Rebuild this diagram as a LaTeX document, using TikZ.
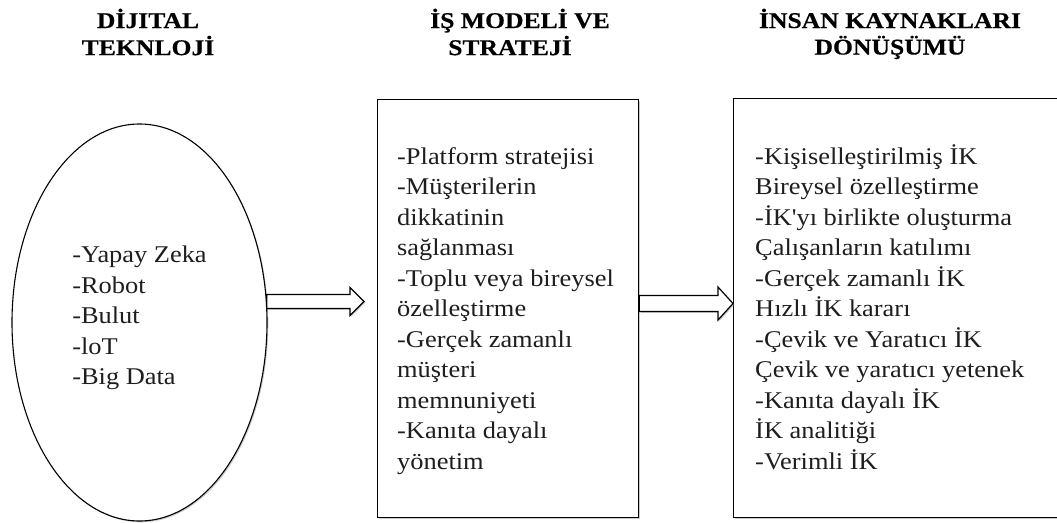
\documentclass[tikz,border=0pt]{standalone}
\usepackage{fontspec}
\setmainfont{Liberation Serif}
\newfontfamily\bodyfont[FakeStretch=1.1]{Liberation Serif}
\newfontfamily\titlefont[FakeStretch=1.14,FakeBold=0.4]{Liberation Serif}
\usetikzlibrary{shapes.geometric,shadows,calc}
\definecolor{txt}{HTML}{1E1E1E}
\newcommand\blockarrow[5]{%
  \draw[barrow] ($(#1)+(0,-#3)$) -- ($(#2)+(-#5,-#3)$) -- ($(#2)+(-#5,-#4)$) -- (#2)
    -- ($(#2)+(-#5,#4)$) -- ($(#2)+(-#5,#3)$) -- ($(#1)+(0,#3)$) -- cycle;}
\tikzset{
  shad/.style={drop shadow={shadow xshift=1.3pt,shadow yshift=-1.3pt,fill=black!40}},
  box/.style={draw, line width=1.2pt, fill=white, shad, anchor=north west, inner sep=0pt},
  ell/.style={ellipse, draw, line width=1.1pt, fill=white, shad, inner sep=0pt,
    minimum width=255pt, minimum height=397pt, text=txt,
    font=\bodyfont\fontsize{24}{30.5}\selectfont},
  body/.style={inner sep=0pt, anchor=base west, text=txt,
    font=\bodyfont\fontsize{24}{30.5}\selectfont},
  ttl/.style={inner sep=0pt, anchor=base, text=black,
    font=\titlefont\bfseries\fontsize{22.5}{26}\selectfont},
  barrow/.style={draw, line width=1.2pt, fill=white, line join=miter, shad},
}
\begin{document}
\begin{tikzpicture}[x=1pt,y=-1pt]
\useasboundingbox (0,0) rectangle (1057,522);

% titles
\node[ttl] (h1) at (148,28) {\begin{tabular}[t]{@{}c@{}}DİJITAL\\TEKNLOJİ\end{tabular}};
\node[ttl,anchor=base west] (h2) at (430,28) {\begin{tabular}[t]{@{}l@{}}İŞ MODELİ VE\\\hspace*{18pt}STRATEJİ\end{tabular}};
\node[ttl] (h3) at (890,28) {\begin{tabular}[t]{@{}c@{}}İNSAN KAYNAKLARI\\DÖNÜŞÜMÜ\end{tabular}};

% shapes
\node[ell] (ell) at (139.5,322.5) {\raisebox{0pt}[\height][\dimexpr\depth+10pt\relax]{\begin{tabular}{@{}l@{}}-Yapay Zeka\\-Robot\\-Bulut\\-loT\\-Big Data\end{tabular}}};
\node[box, minimum width=261pt, minimum height=418pt] (box1) at (377,99) {};
\node[box, minimum width=332pt, minimum height=419pt] (box2) at (733,98) {};

% box texts
\node[body] (b1) at (397,164) {\begin{tabular}[t]{@{}l@{}}-Platform stratejisi\\-Müşterilerin\\dikkatinin\\sağlanması\\-Toplu veya bireysel\\özelleştirme\\-Gerçek zamanlı\\müşteri\\memnuniyeti\\-Kanıta dayalı\\yönetim\end{tabular}};
\node[body] (b2) at (755,164) {\begin{tabular}[t]{@{}l@{}}-Kişiselleştirilmiş İK\\Bireysel özelleştirme\\-İK'yı birlikte oluşturma\\Çalışanların katılımı\\-Gerçek zamanlı İK\\Hızlı İK kararı\\-Çevik ve Yaratıcı İK\\Çevik ve yaratıcı yetenek\\-Kanıta dayalı İK\\İK analitiği\\-Verimli İK\end{tabular}};

% arrows
\coordinate (ya) at (0,301.5);
\coordinate (yb) at (0,303.5);
\coordinate (s1) at ($(ell.east |- ya)+(-0.8,0)$);
\coordinate (e1) at ($(box1.west |- ya)+(-13,0)$);
\coordinate (s2) at (box1.east |- yb);
\coordinate (e2) at (box2.west |- yb);
\blockarrow{s1}{e1}{7}{14}{14}
\blockarrow{s2}{e2}{8}{16.5}{15}
\end{tikzpicture}
\end{document}
